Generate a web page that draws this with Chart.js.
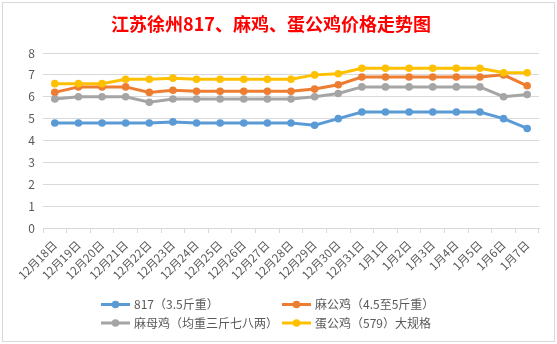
<!DOCTYPE html>
<html>
<head>
<meta charset="utf-8">
<script src="https://cdn.jsdelivr.net/npm/chart.js@4"></script>
<style>
  body { margin: 0; background: #fff; }
  #wrap { width: 557px; height: 344px; }
</style>
</head>
<body>
<div id="wrap"><canvas id="priceChart" width="557" height="344"></canvas></div>
<script>
const labels = ['12月18日', '12月19日', '12月20日', '12月21日', '12月22日', '12月23日', '12月24日',
  '12月25日', '12月26日', '12月27日', '12月28日', '12月29日', '12月30日', '12月31日',
  '1月1日', '1月2日', '1月3日', '1月4日', '1月5日', '1月6日', '1月7日'];

const s817 = [4.8, 4.8, 4.8, 4.8, 4.8, 4.85, 4.8, 4.8, 4.8, 4.8, 4.8, 4.7, 5.0, 5.3, 5.3, 5.3, 5.3, 5.3, 5.3, 5.0, 4.55];
const maGong = [6.2, 6.45, 6.45, 6.45, 6.2, 6.3, 6.25, 6.25, 6.25, 6.25, 6.25, 6.35, 6.55, 6.9, 6.9, 6.9, 6.9, 6.9, 6.9, 7.0, 6.5];
const maMu = [5.9, 6.0, 6.0, 6.0, 5.75, 5.9, 5.9, 5.9, 5.9, 5.9, 5.9, 6.0, 6.15, 6.45, 6.45, 6.45, 6.45, 6.45, 6.45, 6.0, 6.1];
const danGong = [6.6, 6.6, 6.6, 6.8, 6.8, 6.85, 6.8, 6.8, 6.8, 6.8, 6.8, 7.0, 7.05, 7.3, 7.3, 7.3, 7.3, 7.3, 7.3, 7.1, 7.1];

const seriesNames = ['817（3.5斤重）', '麻公鸡（4.5至5斤重）', '麻母鸡（均重三斤七八两）', '蛋公鸡（579）大规格'];
const seriesColors = ['#5B9BD5', '#ED7D31', '#A5A5A5', '#FFC000'];

const FONT = '"Noto Sans CJK SC", "Noto Sans", sans-serif';
const TEXT = '#595959';
const GRID = '#d9d9d9';

function makeSet(i, data, order) {
  return {
    label: seriesNames[i],
    data: data,
    borderColor: seriesColors[i],
    backgroundColor: seriesColors[i],
    pointBackgroundColor: seriesColors[i],
    pointBorderWidth: 0,
    pointRadius: 3.8,
    borderWidth: 3,
    tension: 0,
    fill: false,
    order: order
  };
}

// 边框 + 白底
const framePlugin = {
  id: 'frame',
  beforeDraw(chart) {
    const c = chart.ctx;
    c.save();
    c.fillStyle = '#fff';
    c.fillRect(0, 0, chart.width, chart.height);
    c.strokeStyle = GRID;
    c.lineWidth = 1;
    c.strokeRect(2.5, 2.5, 552, 339);
    c.restore();
  }
};

// 两列图例
const legendPlugin = {
  id: 'twoColLegend',
  afterDraw(chart) {
    const c = chart.ctx;
    const cols = [101, 282];
    const rows = [304.5, 323];
    c.save();
    c.font = '12px ' + FONT;
    c.textBaseline = 'middle';
    chart.data.datasets.forEach((ds, i) => {
      const x = cols[i % 2];
      const y = rows[Math.floor(i / 2)];
      c.strokeStyle = ds.borderColor;
      c.lineWidth = 3;
      c.beginPath();
      c.moveTo(x, y);
      c.lineTo(x + 29, y);
      c.stroke();
      c.fillStyle = ds.borderColor;
      c.beginPath();
      c.arc(x + 14.5, y, 3.8, 0, Math.PI * 2);
      c.fill();
      c.fillStyle = TEXT;
      c.fillText(ds.label, x + 33, y);
    });
    c.restore();
  }
};

const ctx = document.getElementById('priceChart').getContext('2d');
const priceChart = new Chart(ctx, {
  type: 'line',
  data: {
    labels: labels,
    datasets: [
      makeSet(0, s817, 4),
      makeSet(1, maGong, 3),
      makeSet(2, maMu, 2),
      makeSet(3, danGong, 1)
    ]
  },
  options: {
    responsive: false,
    animation: false,
    layout: { padding: { left: 3, right: 18, top: 0, bottom: 0 } },
    scales: {
      x: {
        offset: true,
        grid: { drawOnChartArea: false, drawTicks: true, tickLength: 5, offset: true, color: GRID },
        border: { color: GRID },
        ticks: {
          autoSkip: false,
          maxRotation: 45,
          minRotation: 45,
          color: TEXT,
          font: { family: FONT, size: 11.5 },
          padding: 5
        },
        afterFit(scale) { scale.height = 116; }
      },
      y: {
        min: 0,
        max: 8,
        grid: { color: GRID, drawTicks: false },
        border: { display: false },
        ticks: {
          stepSize: 1,
          color: TEXT,
          font: { family: FONT, size: 12 },
          padding: 8
        },
        afterFit(scale) { scale.width = 40; }
      }
    },
    plugins: {
      legend: { display: false },
      tooltip: { enabled: false },
      title: {
        display: true,
        text: '江苏徐州817、麻鸡、蛋公鸡价格走势图',
        color: '#FF0000',
        font: { family: FONT, size: 18, weight: 'bold', lineHeight: 1.2 },
        padding: { top: 13, bottom: 18.4 }
      }
    }
  },
  plugins: [framePlugin, legendPlugin]
});
</script>
</body>
</html>
